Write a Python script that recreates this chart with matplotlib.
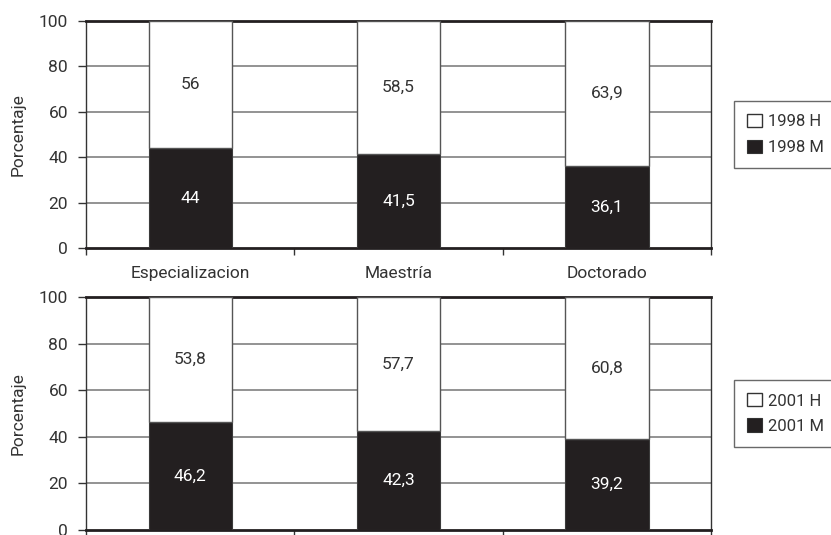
import matplotlib
matplotlib.use("Agg")
import matplotlib.pyplot as plt
import numpy as np

plt.rcParams['font.family'] = ['Roboto', 'DejaVu Sans']

categories = ["Especializacion", "Maestría", "Doctorado"]
m_1998 = [44, 41.5, 36.1]
h_1998 = [56, 58.5, 63.9]
m_2001 = [46.2, 42.3, 39.2]
h_2001 = [53.8, 57.7, 60.8]
yticks = [0, 20, 40, 60, 80, 100]

def fmt(v):
    s = ("%g" % v)
    return s.replace(".", ",")

W, H = 831, 535
fig = plt.figure(figsize=(W / 100, H / 100), dpi=100)

def px_axes(left, top, right, bottom):
    return fig.add_axes([left / W, 1 - bottom / H, (right - left) / W, (bottom - top) / H])

ax1 = px_axes(86, 21, 711, 248)
ax2 = px_axes(86, 297, 711, 530)

black = "#231f20"
txt = "#333333"
FS = 12.5

def draw(ax, m, h, labm, labh, show_x):
    x = np.arange(len(categories))
    ax.set_xlim(-0.5, len(categories) - 0.5)
    ax.set_ylim(0, 100)
    for yv in yticks[1:-1]:
        ax.axhline(yv, color="#8a8a8a", lw=1.3, zorder=1)
    bm = ax.bar(x, m, width=0.4, color=black, edgecolor="#3a3a3a", lw=0.8, zorder=3, label=labm)
    bh = ax.bar(x, h, width=0.4, bottom=m, color="white", edgecolor="#555555", lw=1.0, zorder=3, label=labh)
    for xi, mv, hv in zip(x, m, h):
        ax.text(xi, mv / 2, fmt(mv), ha="center", va="center", color="white", fontsize=FS, zorder=4)
        ax.text(xi, mv + hv / 2, fmt(hv), ha="center", va="center", color=txt, fontsize=FS, zorder=4)
    ax.set_yticks(yticks)
    ax.set_yticklabels([str(v) for v in yticks], fontsize=FS, color=txt)
    ax.set_xticks(x)
    if show_x:
        ax.set_xticklabels(categories, fontsize=FS, color=txt)
    else:
        ax.set_xticklabels([])
    ax.tick_params(axis="x", which="major", length=0, pad=13)
    ax.set_xticks(np.arange(-0.5, len(categories), 1.0), minor=True)
    ax.tick_params(axis="x", which="minor", length=5, width=1, color="#333333", direction="out")
    ax.tick_params(axis="y", length=6, width=1, color="#333333", pad=7)
    for s in ["top", "bottom"]:
        ax.spines[s].set_linewidth(2.0)
        ax.spines[s].set_color(black)
    for s in ["left", "right"]:
        ax.spines[s].set_linewidth(1.0)
        ax.spines[s].set_color("#333333")
    ax.set_ylabel("Porcentaje", fontsize=FS, color=txt)
    leg = ax.legend(handles=[bh, bm], labels=[labh, labm], loc="center left",
                    bbox_to_anchor=(1.037, 0.5), frameon=True, fancybox=False,
                    edgecolor="#444444", fontsize=12, handlelength=0.85, handleheight=0.85,
                    handletextpad=0.4, borderpad=0.8, labelspacing=0.6, labelcolor=txt,
                    borderaxespad=0)
    leg.get_frame().set_linewidth(1.0)
    for p in leg.get_patches():
        p.set_edgecolor("#333333")

draw(ax1, m_1998, h_1998, "1998 M", "1998 H", True)
draw(ax2, m_2001, h_2001, "2001 M", "2001 H", False)
ax1.yaxis.set_label_coords(-0.097, 0.5)
ax2.yaxis.set_label_coords(-0.097, 0.5)

fig.savefig("out.png", dpi=100)
